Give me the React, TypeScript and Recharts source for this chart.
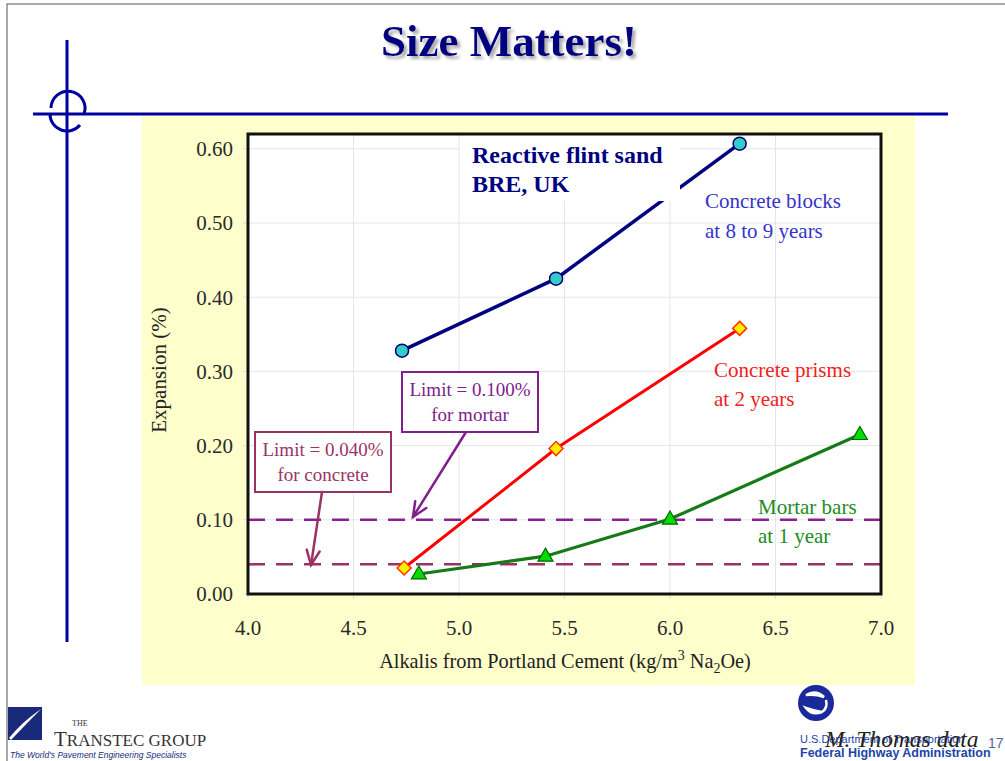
import React from "react";
import { LineChart, Line, XAxis, YAxis, CartesianGrid, ReferenceLine } from "recharts";

// values
const blocksX = [4.73, 5.46, 6.33];
const blocksY = [0.328, 0.425, 0.607];
const prismsX = [4.74, 5.46, 6.33];
const prismsY = [0.035, 0.196, 0.358];
const mortarX = [4.81, 5.41, 6.0, 6.9];
const mortarY = [0.027, 0.051, 0.101, 0.215];
const xTicks = [4.0, 4.5, 5.0, 5.5, 6.0, 6.5, 7.0];
const yTicks = [0, 0.1, 0.2, 0.3, 0.4, 0.5, 0.6];
const mortarLimit = 0.1;
const concreteLimit = 0.04;

const zip = (xs: number[], ys: number[]) => xs.map((x, i) => ({ x, y: ys[i] }));

const blocks = zip(blocksX, blocksY);
const prisms = zip(prismsX, prismsY);
const mortar = zip(mortarX, mortarY);

const SERIF = "'Liberation Serif', 'Times New Roman', serif";
const SANS = "'Liberation Sans', Arial, sans-serif";

const CircleDot = (p: any) => (
  <circle key={`c-${p.index}`} cx={p.cx} cy={p.cy} r={6.5} fill="#33cccc" stroke="#000066" strokeWidth={1.5} />
);
const DiamondDot = (p: any) => (
  <path
    key={`d-${p.index}`}
    d={`M${p.cx},${p.cy - 7} L${p.cx + 7},${p.cy} L${p.cx},${p.cy + 7} L${p.cx - 7},${p.cy} Z`}
    fill="#ffee00"
    stroke="#ff3300"
    strokeWidth={1.5}
  />
);
const TriangleDot = (p: any) => (
  <path
    key={`t-${p.index}`}
    d={`M${p.cx},${p.cy - 8} L${p.cx + 7.5},${p.cy + 5} L${p.cx - 7.5},${p.cy + 5} Z`}
    fill="#00dd00"
    stroke="#006600"
    strokeWidth={1.2}
  />
);

function Arrow({ x1, y1, x2, y2, color }: { x1: number; y1: number; x2: number; y2: number; color: string }) {
  const a = Math.atan2(y2 - y1, x2 - x1);
  const len = 16;
  const sp = 0.42;
  const p1 = [x2 - len * Math.cos(a - sp), y2 - len * Math.sin(a - sp)];
  const p2 = [x2 - len * Math.cos(a + sp), y2 - len * Math.sin(a + sp)];
  return (
    <g stroke={color} strokeWidth={2.5} fill="none" strokeLinecap="round">
      <line x1={x1} y1={y1} x2={x2} y2={y2} />
      <polyline points={`${p1[0]},${p1[1]} ${x2},${y2} ${p2[0]},${p2[1]}`} />
    </g>
  );
}

export default function App() {
  return (
    <div style={{ position: "absolute", left: 0, top: 0, width: 1005, height: 761, background: "#fff", overflow: "hidden" }}>
      {/* slide background */}
      <svg width={1005} height={761} style={{ position: "absolute", left: 0, top: 0 }}>
        <rect x={7} y={4} width={1100} height={800} fill="none" stroke="#555" strokeWidth={1} />
        <rect x={142} y={115} width={773} height={570} fill="#ffffcc" />
        <g stroke="#0000a0" strokeWidth={3} fill="none">
          <line x1={33} y1={114} x2={948} y2={114} />
          <line x1={67} y1={40} x2={67} y2={642} />
          <path d="M51,108 A17,17 0 1 1 84,114" />
          <path d="M50,114 A17,17 0 0 0 80,125" />
        </g>
      </svg>

      <div style={{ position: "absolute", left: 0, top: 0 }}>
        <LineChart width={1005} height={761} margin={{ top: 134, right: 124, left: 148, bottom: 87 }}>
          <CartesianGrid fill="#ffffff" stroke="#e6e6e6" />
          <XAxis
            type="number"
            dataKey="x"
            domain={[4, 7]}
            ticks={xTicks}
            tickFormatter={(v: number) => v.toFixed(1)}
            height={80}
            axisLine={false}
            tickLine={{ stroke: "#dddddd" }}
            tickSize={5}
            tickMargin={21}
            tick={{ fontFamily: SERIF, fontSize: 21, fill: "#2a2a2a" }}
          />
          <YAxis
            type="number"
            dataKey="y"
            domain={[0, 0.62]}
            ticks={yTicks}
            tickFormatter={(v: number) => v.toFixed(2)}
            width={100}
            axisLine={false}
            tickLine={{ stroke: "#dddddd" }}
            tickSize={5}
            tickMargin={10}
            tick={{ fontFamily: SERIF, fontSize: 21, fill: "#2a2a2a" }}
          />
          <ReferenceLine y={mortarLimit} stroke="#8a1f8f" strokeWidth={2.5} strokeDasharray="17 11" />
          <ReferenceLine y={concreteLimit} stroke="#993366" strokeWidth={2.5} strokeDasharray="17 11" />
          <Line data={blocks} dataKey="y" stroke="#000080" strokeWidth={3.5} dot={CircleDot} isAnimationActive={false} />
          <Line data={prisms} dataKey="y" stroke="#ff0000" strokeWidth={3} dot={DiamondDot} isAnimationActive={false} />
          <Line data={mortar} dataKey="y" stroke="#167a16" strokeWidth={3.2} dot={TriangleDot} isAnimationActive={false} />
        </LineChart>
      </div>

      {/* annotations */}
      <svg width={1005} height={761} style={{ position: "absolute", left: 0, top: 0, pointerEvents: "none" }}>
        <defs>
          <filter id="sh" x="-10%" y="-20%" width="120%" height="150%">
            <feDropShadow dx="3" dy="3" stdDeviation="1.5" floodColor="#888" floodOpacity="0.7" />
          </filter>
        </defs>
        <text x={509} y={56} textAnchor="middle" fontFamily={SERIF} fontWeight="bold" fontSize={45} fill="#000080" filter="url(#sh)">
          Size Matters!
        </text>

        {/* white label box hiding part of the blocks line */}
        <rect x={460} y={135} width={220} height={66} fill="#ffffff" />
        <text fontFamily={SERIF} fontWeight="bold" fontSize={24} fill="#000080">
          <tspan x={472} y={163}>Reactive flint sand</tspan>
          <tspan x={472} y={192}>BRE, UK</tspan>
        </text>

        <rect x={248} y={134} width={633} height={460} fill="none" stroke="#111" strokeWidth={3} />

        <text fontFamily={SERIF} fontSize={21} fill="#3333cc">
          <tspan x={705} y={208}>Concrete blocks</tspan>
          <tspan x={705} y={238}>at 8 to 9 years</tspan>
        </text>
        <text fontFamily={SERIF} fontSize={21} fill="#ee2222">
          <tspan x={714} y={377}>Concrete prisms</tspan>
          <tspan x={714} y={406}>at 2 years</tspan>
        </text>
        <text fontFamily={SERIF} fontSize={21} fill="#228b22">
          <tspan x={758} y={514}>Mortar bars</tspan>
          <tspan x={758} y={543}>at 1 year</tspan>
        </text>

        <rect x={402} y={372} width={136} height={60} fill="#ffffff" stroke="#80208a" strokeWidth={2} />
        <text fontFamily={SERIF} fontSize={19} fill="#80208a" textAnchor="middle">
          <tspan x={470} y={396}>Limit = 0.100%</tspan>
          <tspan x={470} y={421}>for mortar</tspan>
        </text>
        <Arrow x1={466} y1={432} x2={413} y2={517} color="#80208a" />

        <rect x={255} y={432} width={136} height={60} fill="#ffffff" stroke="#993366" strokeWidth={2} />
        <text fontFamily={SERIF} fontSize={19} fill="#993366" textAnchor="middle">
          <tspan x={323} y={456}>Limit = 0.040%</tspan>
          <tspan x={323} y={481}>for concrete</tspan>
        </text>
        <Arrow x1={322} y1={492} x2={311} y2={565} color="#993366" />

        <text x={166} y={370} transform="rotate(-90 166 370)" textAnchor="middle" fontFamily={SERIF} fontSize={21} fill="#222">
          Expansion (%)
        </text>
        <text x={565} y={668} textAnchor="middle" fontFamily={SERIF} fontSize={20.3} fill="#222">
          Alkalis from Portland Cement (kg/m<tspan dy={-8} fontSize={14}>3</tspan>
          <tspan dy={8}> Na</tspan>
          <tspan dy={5} fontSize={14}>2</tspan>
          <tspan dy={-5}>Oe)</tspan>
        </text>

        {/* Transtec logo */}
        <rect x={8} y={707} width={34} height={33} fill="#1a2a7a" />
        <path d="M9,738 Q22,722 41,709 Q26,724 11,740 Z" fill="#ffffff" />
        <text x={72} y={726} fontFamily={SERIF} fontSize={8} fill="#333">THE</text>
        <text x={54} y={746} fontFamily={SERIF} fontSize={17} fill="#333">
          <tspan fontSize={21}>T</tspan>RANSTEC GROUP
        </text>
        <text x={10} y={758} fontFamily={SANS} fontStyle="italic" fontSize={8.5} fill="#1a2a7a">
          The World's Pavement Engineering Specialists
        </text>

        {/* FHWA logo */}
        <circle cx={816} cy={703} r={18} fill="#1a2a9a" />
        <path d="M806,695 q10,-6 18,2 q-8,-3 -18,-2 Z M822,712 q-10,4 -16,-4 q8,3 16,4 Z M826,700 q2,8 -4,12" stroke="#fff" strokeWidth={2.5} fill="none" />
        <text x={800} y={743} fontFamily={SANS} fontSize={11} fill="#2244aa">U.S.Department of Transportation</text>
        <text x={800} y={757} fontFamily={SANS} fontWeight="bold" fontSize={12.5} fill="#2244aa">Federal Highway Administration</text>
        <text x={825} y={747} fontFamily={SERIF} fontStyle="italic" fontSize={23.5} fill="#222">M. Thomas data</text>
        <text x={988} y={748} fontFamily={SANS} fontSize={14} fill="#556699">17</text>
      </svg>
    </div>
  );
}
